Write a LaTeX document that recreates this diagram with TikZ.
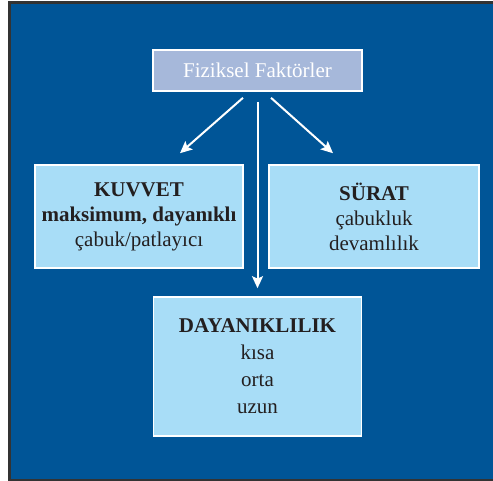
\documentclass[tikz,border=0pt]{standalone}
\usepackage{fontspec}
\setmainfont{Liberation Serif}
\usepackage{xcolor}
\usepackage{tikz}
\usetikzlibrary{positioning,arrows.meta,calc}
\definecolor{panelblue}{RGB}{0,85,151}
\definecolor{headfill}{RGB}{166,184,218}
\definecolor{boxfill}{RGB}{168,221,247}
\definecolor{textdark}{RGB}{35,31,32}

\begin{document}
\begin{tikzpicture}[x=0.5pt,y=-0.5pt,
    factor/.style={draw=white, line width=0.8pt, fill=boxfill, text=textdark,
                   align=center, inner sep=0pt, font=\fontsize{10.5}{12.5}\selectfont},
    link/.style={draw=white, line width=1pt, -{Stealth[length=6pt,width=5.5pt,inset=1.2pt]}}]
    \useasboundingbox (0,0) rectangle (493,481);
    \draw[fill=panelblue, draw=black!80, line width=1.5pt] (9.5,3) rectangle (500,480);
    \node[draw=white, line width=0.8pt, fill=headfill, text=white,
          minimum width=104.5pt, minimum height=20.5pt, inner sep=0pt,
          font=\fontsize{10.5}{12.5}\selectfont] (head) at (257.5,70.5) {Fiziksel Faktörler};
    \node[factor, minimum width=104pt, minimum height=51.5pt] (kuvvet) at (139,216.5)
      {\textbf{KUVVET}\\ \textbf{maksimum, dayanıklı}\\ çabuk/patlayıcı};
    \node[factor, minimum width=105pt, minimum height=51.5pt] (surat) at (374,216.5)
      {\textbf{SÜRAT}\\ çabukluk\\ devamlılık};
    \node[factor, minimum width=104pt, minimum height=69.5pt,
          font=\fontsize{10.5}{13.5}\selectfont] (dayan) at (257.5,366.5)
      {\textbf{DAYANIKLILIK}\\ kısa\\ orta\\ uzun};
    \coordinate (kuvvet tip) at ($(kuvvet.north)+(41,-11)$);
    \coordinate (surat tip) at ($(surat.north)+(-41,-11)$);
    \draw[link] ($(head.south)+(-14.5,6)$) -- (kuvvet tip);
    \draw[link] ($(head.south)+(13.5,6)$) -- (surat tip);
    \draw[link] ($(head.south)+(0,10)$) -- ($(dayan.north)+(0,-8)$);
\end{tikzpicture}
\end{document}
